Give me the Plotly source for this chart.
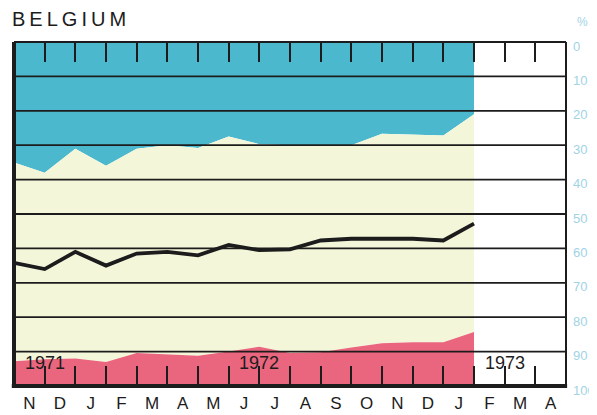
import plotly.graph_objects as go

# ---- data ----
months = ["N", "D", "J", "F", "M", "A", "M", "J", "J", "A", "S", "O",
          "N", "D", "J", "F", "M", "A"]
years = ["1971", "1972", "1973"]
year_pos = [1, 8, 16]
period_idx = list(range(16))  # month boundaries with data
blue_edge = [35, 38, 31, 36, 31, 30, 30.8, 27.5, 29.7, 30, 30, 30, 26.7, 26.9, 27.2, 21]
red_edge = [92.8, 92.2, 92, 93, 90.4, 90.8, 91.2, 90, 88.6, 90.4, 90.2, 88.8,
            87.6, 87.3, 87.3, 84.3]
black_line = [64.2, 66, 61, 65, 61.5, 61, 62, 59, 60.5, 60.3, 57.7, 57.2,
              57.2, 57.2, 57.7, 52.8]
pct_ticks = list(range(0, 101, 10))

BLUE = "#4cb8cd"
CREAM = "#f4f6da"
RED = "#e9667e"
LABEL_BLUE = "#9fd3e6"
INK = "#1c1c1c"
FONT = "Liberation Sans, Arial, sans-serif"

# the page body adds an 8px offset; compensate in the margins
OFF = 8

fig = go.Figure()
fig.add_trace(go.Scatter(x=period_idx, y=[0] * len(period_idx), mode="lines",
                         line=dict(width=0), hoverinfo="skip", showlegend=False))
fig.add_trace(go.Scatter(x=period_idx, y=blue_edge, mode="lines", fill="tonexty",
                         fillcolor=BLUE, line=dict(width=0), showlegend=False))
fig.add_trace(go.Scatter(x=period_idx, y=red_edge, mode="lines", fill="tonexty",
                         fillcolor=CREAM, line=dict(width=0), showlegend=False))
fig.add_trace(go.Scatter(x=period_idx, y=[100] * len(period_idx), mode="lines",
                         fill="tonexty", fillcolor=RED, line=dict(width=0),
                         showlegend=False))
fig.add_trace(go.Scatter(x=period_idx, y=black_line, mode="lines",
                         line=dict(color=INK, width=3.8), showlegend=False))

# gridlines above the filled areas
shapes = []
for v in pct_ticks[1:-1]:
    shapes.append(dict(type="line", xref="paper", yref="y", x0=0, x1=1, y0=v, y1=v,
                       line=dict(color=INK, width=1.8), layer="above"))
# frame: thick left/bottom, thinner top/right
shapes.append(dict(type="line", xref="paper", yref="paper", x0=0, x1=0, y0=-0.004, y1=1,
                   line=dict(color=INK, width=4), layer="above"))
shapes.append(dict(type="line", xref="paper", yref="paper", x0=-0.004, x1=1.002, y0=0, y1=0,
                   line=dict(color=INK, width=4), layer="above"))
shapes.append(dict(type="line", xref="paper", yref="paper", x0=0, x1=1, y0=1, y1=1,
                   line=dict(color=INK, width=2), layer="above"))
shapes.append(dict(type="line", xref="paper", yref="paper", x0=1, x1=1, y0=0, y1=1,
                   line=dict(color=INK, width=2), layer="above"))

annotations = []
for yr, xp in zip(years, year_pos):
    annotations.append(dict(x=xp, y=93.4, xref="x", yref="y", text=yr, showarrow=False,
                            font=dict(family=FONT, size=18, color=INK),
                            xanchor="center", yanchor="middle"))
annotations.append(dict(x=1, y=1, xref="paper", yref="paper", text="%", showarrow=False,
                        xshift=16, yshift=20, font=dict(family=FONT, size=12, color=LABEL_BLUE),
                        xanchor="center", yanchor="middle"))
annotations.append(dict(x=0, y=1, xref="paper", yref="paper",
                        text="B\u2009E\u2009L\u2009G\u2009I\u2009U\u2009M", showarrow=False,
                        xshift=-3, yshift=23, xanchor="left", yanchor="middle",
                        height=20, valign="middle", borderpad=0,
                        font=dict(family=FONT, size=20, color=INK)))

fig.update_layout(
    width=597, height=415,
    margin=dict(l=14 - OFF, r=597 - 566 + OFF, t=42 - OFF, b=415 - 386 + OFF,
                autoexpand=False),
    paper_bgcolor="white", plot_bgcolor="white",
    xaxis=dict(range=[0, 18], tickvals=list(range(1, 18)), ticktext=[""] * 17,
               ticks="inside", ticklen=20, tickwidth=2, tickcolor=INK,
               showline=True, linecolor=INK, linewidth=1, mirror="allticks",
               showgrid=False, zeroline=False, layer="above traces", fixedrange=True,
               automargin=False),
    xaxis2=dict(range=[0, 18], overlaying="x", side="bottom",
                tickvals=[i + 0.5 for i in range(len(months))], ticktext=months,
                ticks="", showline=False, showgrid=False, zeroline=False,
                automargin=False, ticklabelstandoff=5,
                tickfont=dict(family=FONT, size=17, color=INK)),
    yaxis=dict(range=[100, 0], side="right", tickvals=pct_ticks,
               ticktext=[str(v) for v in pct_ticks], ticks="", showgrid=False,
               zeroline=False, showline=False, ticklabelstandoff=6, ticklabelshift=-4,
               automargin=False,
               tickfont=dict(family=FONT, size=13, color=LABEL_BLUE), fixedrange=True),
    shapes=shapes, annotations=annotations,
)
# make xaxis2 render by attaching an invisible trace
fig.add_trace(go.Scatter(x=[0, 18], y=[0, 0], xaxis="x2", mode="markers",
                         marker=dict(opacity=0), hoverinfo="skip", showlegend=False))

fig.write_html("out.html")
